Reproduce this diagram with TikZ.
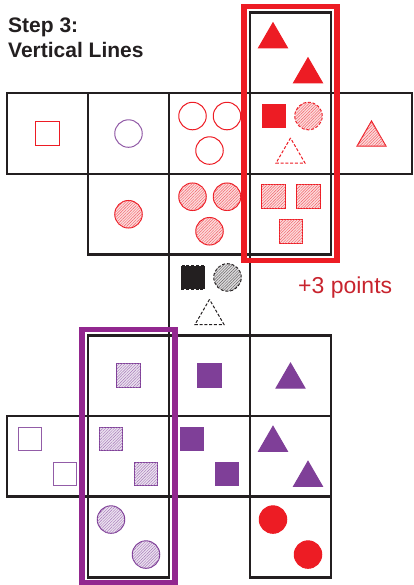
\documentclass[tikz,border=0pt]{standalone}
\usepackage{fontspec}
\setmainfont{Liberation Sans}
\usetikzlibrary{positioning,fit,shapes.geometric,patterns.meta}
\definecolor{ink}{HTML}{231F20}
\definecolor{scarlet}{HTML}{ED1C24}
\definecolor{plum}{HTML}{7F3F98}
\definecolor{frameplum}{HTML}{92278F}
\definecolor{score}{HTML}{C8242E}
\tikzset{
  cell/.style={draw=ink,line width=2.5pt,minimum width=81pt,minimum height=80.7pt,inner sep=0,outer sep=0},
  sq/.style={rectangle,minimum size=23.5pt,inner sep=0,line width=1pt},
  circ/.style={circle,minimum size=27.5pt,inner sep=0,line width=1pt},
  tri/.style={regular polygon,regular polygon sides=3,minimum size=33.5pt,inner sep=0,line width=1pt,yshift=-4.2pt},
  open/.style={draw=#1},
  full/.style={draw=#1,fill=#1},
  hatch/.style={draw=#1,fill=#1!15,postaction={pattern={Lines[angle=45,distance=2pt,line width=.45pt]},pattern color=#1!70}},
  broken/.style={dash pattern=on 3pt off 1.8pt},
  frame/.style={draw=#1,line width=5.5pt,inner sep=5.8pt},
  title/.style={font=\bfseries\fontsize{21}{25}\selectfont,text=ink,inner sep=0,anchor=base west}
}
\begin{document}
\begin{tikzpicture}[x=1pt,y=-1pt]
\path[use as bounding box] (0,0) rectangle (414,585);
\node[title] (heading) at (8,33) {Step 3:};
\node[title] (subheading) at (8,58) {Vertical Lines};
% grid of cells
\foreach \r/\c in {1/4,2/1,2/2,2/3,2/4,2/5,3/2,3/3,3/4,4/3,5/2,5/3,5/4,6/1,6/2,6/3,6/4,7/2,7/4}
  \node[cell] (c\r\c) at ({81*\c-33.5},{80.7*\r-27.85}) {};
% row 1
\node[tri,full=scarlet] (t14a) at ([shift={(-17.5,-17.5)}]c14) {};
\node[tri,full=scarlet] (t14b) at ([shift={(17.5,17.5)}]c14) {};
% row 2
\node[sq,open=scarlet] (s21) at (c21) {};
\node[circ,open=plum!85] (o22) at (c22) {};
\node[circ,open=scarlet] (o23a) at ([shift={(-17,-17.5)}]c23) {};
\node[circ,open=scarlet] (o23b) at ([shift={(17.5,-17.5)}]c23) {};
\node[circ,open=scarlet] (o23c) at ([shift={(0,17)}]c23) {};
\node[sq,full=scarlet,broken] (s24) at ([shift={(-16.5,-17.5)}]c24) {};
\node[circ,hatch=scarlet,broken] (o24) at ([shift={(18,-17.5)}]c24) {};
\node[tri,open=scarlet,broken] (t24) at ([shift={(0,17)}]c24) {};
\node[tri,hatch=scarlet] (t25) at (c25) {};
% row 3
\node[circ,hatch=scarlet] (o32) at (c32) {};
\node[circ,hatch=scarlet] (o33a) at ([shift={(-17,-17.5)}]c33) {};
\node[circ,hatch=scarlet] (o33b) at ([shift={(17.5,-17.5)}]c33) {};
\node[circ,hatch=scarlet] (o33c) at ([shift={(0,17)}]c33) {};
\node[sq,hatch=scarlet] (s34a) at ([shift={(-17,-17.5)}]c34) {};
\node[sq,hatch=scarlet] (s34b) at ([shift={(18,-17.5)}]c34) {};
\node[sq,hatch=scarlet] (s34c) at ([shift={(0.5,17)}]c34) {};
% row 4
\node[sq,full=ink,broken] (s43) at ([shift={(-16.5,-17.5)}]c43) {};
\node[circ,hatch=ink,broken] (o43) at ([shift={(18,-17.5)}]c43) {};
\node[tri,open=ink,broken] (t43) at ([shift={(0,17)}]c43) {};
% row 5
\node[sq,hatch=plum] (s52) at (c52) {};
\node[sq,full=plum] (s53) at (c53) {};
\node[tri,full=plum] (t54) at (c54) {};
% row 6
\node[sq,open=plum!85] (s61a) at ([shift={(-17.5,-17.5)}]c61) {};
\node[sq,open=plum!85] (s61b) at ([shift={(17.5,17.5)}]c61) {};
\node[sq,hatch=plum] (s62a) at ([shift={(-17.5,-17.5)}]c62) {};
\node[sq,hatch=plum] (s62b) at ([shift={(17.5,17.5)}]c62) {};
\node[sq,full=plum] (s63a) at ([shift={(-17.5,-17.5)}]c63) {};
\node[sq,full=plum] (s63b) at ([shift={(17.5,17.5)}]c63) {};
\node[tri,full=plum] (t64a) at ([shift={(-17.5,-17.5)}]c64) {};
\node[tri,full=plum] (t64b) at ([shift={(17.5,17.5)}]c64) {};
% row 7
\node[circ,hatch=plum] (o72a) at ([shift={(-17.5,-17.5)}]c72) {};
\node[circ,hatch=plum] (o72b) at ([shift={(17.5,17.5)}]c72) {};
\node[circ,full=scarlet] (o74a) at ([shift={(-17.5,-17.5)}]c74) {};
\node[circ,full=scarlet] (o74b) at ([shift={(17.5,17.5)}]c74) {};
% highlighted lines
\node[frame=scarlet,fit=(c14)(c34)] (redline) {};
\node[frame=frameplum,fit=(c52)(c72)] (purpleline) {};
\node[font=\fontsize{23}{27}\selectfont,text=score,anchor=base west,inner sep=0] (bonus) at (298,293) {+3 points};
\end{tikzpicture}
\end{document}
